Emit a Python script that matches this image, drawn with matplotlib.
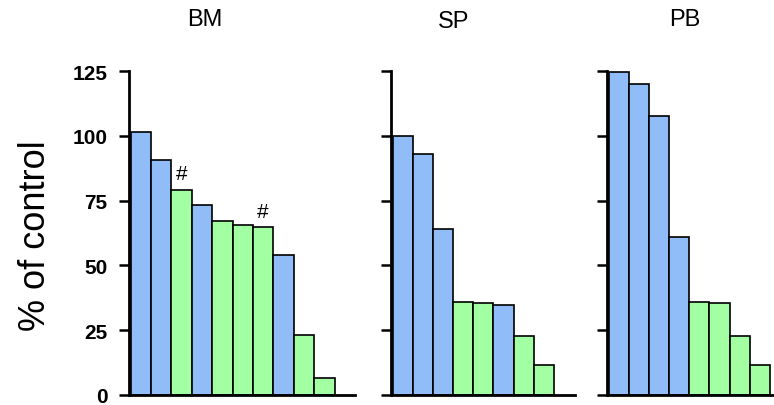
import matplotlib
matplotlib.use("Agg")
import matplotlib.pyplot as plt

plt.rcParams["font.family"] = ["Liberation Sans", "DejaVu Sans"]

# bar heights (% of control), sorted high -> low within each tissue
bm_values = [101.6, 90.7, 79.2, 73.3, 67.3, 65.6, 64.7, 54.0, 23.3, 6.4]
sp_values = [99.9, 93.0, 63.9, 35.9, 35.4, 34.7, 22.8, 11.6]
pb_values = [124.8, 119.8, 107.8, 60.8, 35.8, 35.4, 22.6, 11.5]

# 0 = blue group, 1 = green group
bm_group = [0, 0, 1, 0, 1, 1, 1, 0, 1, 1]
sp_group = [0, 0, 0, 1, 1, 0, 1, 1]
pb_group = [0, 0, 0, 0, 1, 1, 1, 1]

# bars flagged with "#"
bm_marks = [2, 6]

titles = ["BM", "SP", "PB"]
y_ticks = [0, 25, 50, 75, 100, 125]

GROUP_COLOR = {0: "#90bdf8", 1: "#a2ffa2"}

W, H = 774, 406
fig = plt.figure(figsize=(W / 100, H / 100), dpi=100)

bottom = 10 / H
height = 324 / H
# left edge and width in pixels for each panel
panel_px = [(128.5, 226.5, 11.0), (390.7, 184.3, 9.05), (606.7, 184.3, 9.05)]
title_px = [(205, 20), (454, 22), (685, 20)]

panels = [(bm_values, bm_group), (sp_values, sp_group), (pb_values, pb_group)]

for i, ((vals, grp), (lx, wx, xmax)) in enumerate(zip(panels, panel_px)):
    ax = fig.add_axes([lx / W, bottom, wx / W, height])
    xs = list(range(len(vals)))
    ax.bar(xs, vals, width=1.0, align="edge",
           color=[GROUP_COLOR[g] for g in grp],
           edgecolor="black", linewidth=1.2, zorder=2)
    ax.set_xlim(-0.1, xmax)
    ax.set_ylim(0, 125)
    ax.set_yticks(y_ticks)
    ax.set_xticks([])
    for side in ("top", "right"):
        ax.spines[side].set_visible(False)
    for side in ("left", "bottom"):
        ax.spines[side].set_linewidth(2.0)
        ax.spines[side].set_zorder(3)
    ax.tick_params(axis="y", length=7, width=1.8, pad=8)
    if i == 0:
        ax.set_yticklabels([str(t) for t in y_ticks],
                           fontsize=15, fontweight="bold")
        for idx in bm_marks:
            ax.text(idx + 0.5, vals[idx] + 2.5, "#", ha="center",
                    va="bottom", fontsize=15)
    else:
        ax.set_yticklabels([])
    tx, ty = title_px[i]
    fig.text(tx / W, 1 - ty / H, titles[i], ha="center", va="center",
             fontsize=17)

fig.text(36 / W, 1 - 236 / H, "% of control", rotation=90,
         ha="center", va="center", fontsize=26)

fig.savefig("out.png", dpi=100)
